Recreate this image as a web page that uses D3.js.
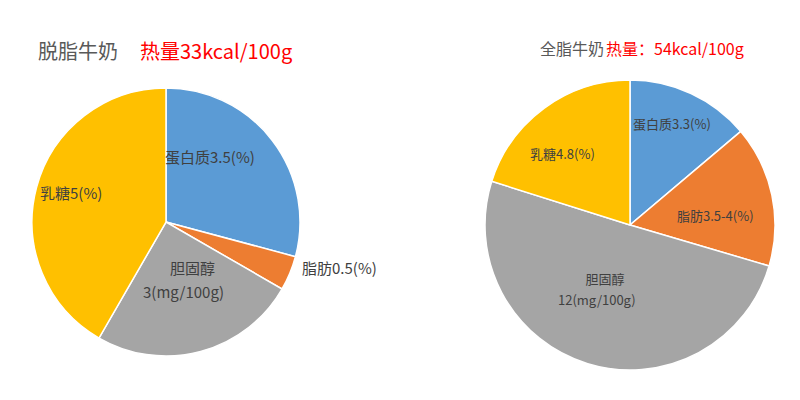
<!DOCTYPE html>
<html><head><meta charset="utf-8">
<script src="https://cdn.jsdelivr.net/npm/d3@7"></script>
<style>body{margin:0;background:#fff}text{font-family:"Noto Sans CJK SC",sans-serif}</style>
</head><body><svg id="c" width="800" height="400"></svg>
<script>
const categories=["蛋白质","脂肪","胆固醇","乳糖"];
const skimValues=[3.5,0.5,3,5];
const wholeValues=[3.3,3.75,12,4.8];
const colors=["#5B9BD5","#ED7D31","#A5A5A5","#FFC000"];
const skimLabels=[["蛋白质3.5(%)"],["脂肪0.5(%)"],["胆固醇","3(mg/100g)"],["乳糖5(%)"]];
const wholeLabels=[["蛋白质3.3(%)"],["脂肪3.5-4(%)"],["胆固醇","12(mg/100g)"],["乳糖4.8(%)"]];
const svg=d3.select("#c");
function pie(vals,cx,cy,r,labels,pos,fs,anchors){
  const g=svg.append("g").attr("transform",`translate(${cx},${cy})`);
  const arcs=d3.pie().sort(null)(vals);
  const arc=d3.arc().innerRadius(0).outerRadius(r);
  g.selectAll("path").data(arcs).join("path").attr("d",arc).attr("fill",(d,i)=>colors[i]).attr("stroke","#fff").attr("stroke-width",1.5);
  labels.forEach((ls,i)=>{ls.forEach((t,j)=>{
    svg.append("text").attr("x",pos[i][j][0]).attr("y",pos[i][j][1]).attr("text-anchor",anchors[i][j]||"start")
      .attr("font-size",fs).attr("fill","#404040").text(t);});});
}
pie(skimValues,166,222,134,skimLabels,[[[165,163]],[[302,274]],[[170,274],[143,298]],[[40,199]]],15,[["start"],["start"],["start"],["start"]]);
pie(wholeValues,630,225,145,wholeLabels,[[[633,129]],[[677,221]],[[605,284],[558,305]],[[530,159]]],13,[["start"],["start"],["middle"],["start"]]);
svg.append("text").attr("x",38).attr("y",59).attr("font-size",20).attr("fill","#595959").text("脱脂牛奶");
svg.append("text").attr("x",140).attr("y",59).attr("font-size",20).attr("fill","#FF0000").text("热量33kcal/100g");
svg.append("text").attr("x",540).attr("y",55).attr("font-size",16).attr("fill","#595959").text("全脂牛奶");
svg.append("text").attr("x",606).attr("y",55).attr("font-size",16).attr("fill","#FF0000").text("热量：54kcal/100g");
</script></body></html>
